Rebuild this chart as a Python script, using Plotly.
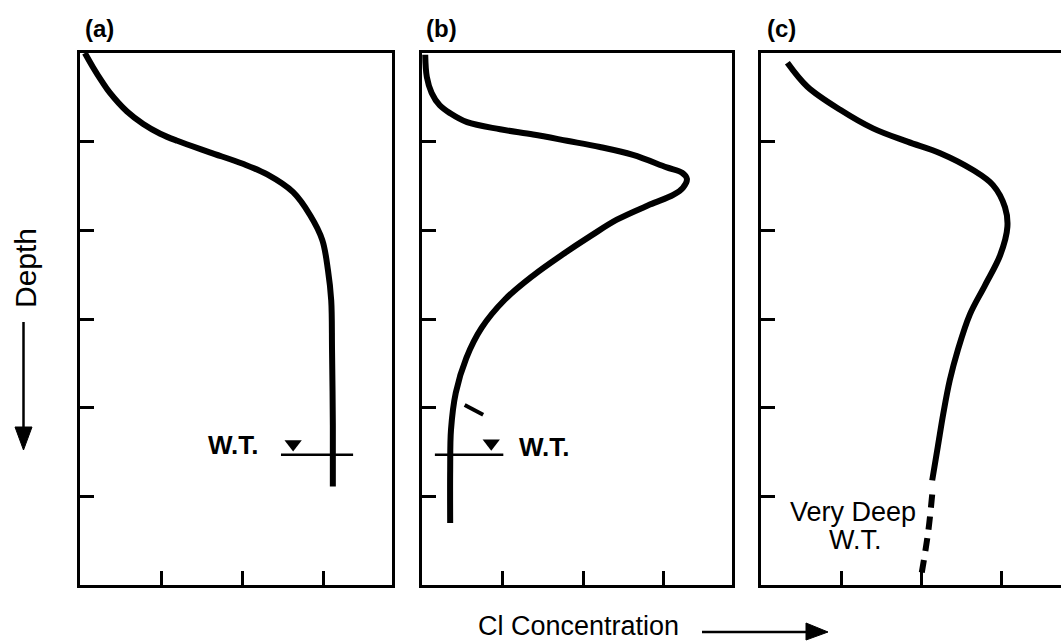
import plotly.graph_objects as go

W, H = 1061, 642

# ---- data (concentration units = tick intervals, depth units = tick intervals) ----
a_conc = [0.06, 0.16, 0.27, 0.37, 0.58, 0.78, 0.99, 1.20, 1.60, 2.01, 2.31, 2.63, 2.84, 2.99, 3.06, 3.10, 3.11, 3.12, 3.12]
a_depth = [0.00, 0.16, 0.32, 0.45, 0.66, 0.80, 0.91, 0.99, 1.12, 1.25, 1.37, 1.57, 1.83, 2.11, 2.45, 2.79, 3.35, 4.20, 4.89]

b_conc = [0.04, 0.06, 0.12, 0.22, 0.35, 0.56, 0.97, 1.38, 1.80, 2.21, 2.62, 3.04, 3.23, 3.29, 3.24, 3.12,
          2.83, 2.42, 2.10, 1.75, 1.38, 1.03, 0.74, 0.55, 0.42, 0.36, 0.35, 0.35]
b_depth = [0.02, 0.27, 0.45, 0.59, 0.68, 0.78, 0.86, 0.92, 0.99, 1.06, 1.15, 1.29, 1.35, 1.42, 1.52, 1.60,
           1.71, 1.88, 2.06, 2.27, 2.51, 2.78, 3.10, 3.44, 3.83, 4.25, 4.70, 5.30]
b_dash_conc = [0.53, 0.76]
b_dash_depth = [3.97, 4.08]

c_conc = [0.33, 0.58, 0.99, 1.40, 1.83, 2.24, 2.65, 2.90, 3.05, 3.08, 2.99, 2.80, 2.61, 2.46, 2.36, 2.28, 2.21, 2.14]
c_depth = [0.11, 0.38, 0.64, 0.85, 1.00, 1.13, 1.32, 1.49, 1.74, 1.96, 2.28, 2.62, 2.95, 3.35, 3.69, 4.06, 4.44, 4.82]
c_deep_conc = [2.14, 2.09, 2.01]
c_deep_depth = [4.98, 5.40, 5.86]

# water table markers
wt_a = dict(x0=2.48, x1=3.37, d=4.53, tx=2.63, td=4.41, lx=1.89, ld=4.42)
wt_b = dict(x0=0.16, x1=1.01, d=4.53, tx=0.86, td=4.40, lx=1.52, ld=4.44)
c_label_x, c_label_d1, c_label_d2 = 1.15, 5.18, 5.49

tick_vals = [1, 2, 3]
depth_ticks = [1, 2, 3, 4, 5]

FONT = "Liberation Sans, Arial, Helvetica, sans-serif"
TS = 27

def px(x):
    return x / W

def py(y):
    return 1 - y / H

fig = go.Figure()

curve = dict(color="black", width=6, shape="spline", smoothing=1.0)

fig.add_trace(go.Scatter(x=a_conc, y=a_depth, mode="lines", line=curve, xaxis="x", yaxis="y", hoverinfo="skip"))
fig.add_trace(go.Scatter(x=b_conc, y=b_depth, mode="lines", line=curve, xaxis="x2", yaxis="y2", hoverinfo="skip"))
fig.add_trace(go.Scatter(x=b_dash_conc, y=b_dash_depth, mode="lines", line=dict(color="black", width=4),
                         xaxis="x2", yaxis="y2", hoverinfo="skip"))
fig.add_trace(go.Scatter(x=c_conc, y=c_depth, mode="lines", line=curve,
                         xaxis="x3", yaxis="y3", hoverinfo="skip"))
fig.add_trace(go.Scatter(x=c_deep_conc, y=c_deep_depth, mode="lines",
                         line=dict(color="black", width=6, dash="13px,9px", shape="spline"),
                         xaxis="x3", yaxis="y3", hoverinfo="skip"))

for wt, xa, ya in [(wt_a, "x", "y"), (wt_b, "x2", "y2")]:
    fig.add_trace(go.Scatter(x=[wt["x0"], wt["x1"]], y=[wt["d"], wt["d"]], mode="lines",
                             line=dict(color="black", width=2.5), xaxis=xa, yaxis=ya, hoverinfo="skip"))
    fig.add_trace(go.Scatter(x=[wt["tx"]], y=[wt["td"]], mode="markers",
                             marker=dict(symbol="triangle-down", size=15, color="black"),
                             xaxis=xa, yaxis=ya, hoverinfo="skip"))

x_dom = [[80 / W, 392 / W], [422 / W, 732 / W], [761 / W, 1.0]]
x_rng = [[0, 3.85], [0, 3.85], [0, 300 / 80]]
y_dom = [py(585), py(53)]

axis_common = dict(showline=True, linecolor="black", linewidth=3, ticks="inside", ticklen=14,
                   tickwidth=2.5, tickcolor="black", showticklabels=False, showgrid=False,
                   zeroline=False, fixedrange=True)

layout = dict(width=W, height=H, margin=dict(l=0, r=0, t=0, b=0), showlegend=False,
              paper_bgcolor="white", plot_bgcolor="white")

for i in range(3):
    sx = "" if i == 0 else str(i + 1)
    layout["xaxis" + sx] = dict(axis_common, domain=x_dom[i], range=x_rng[i], tickvals=tick_vals,
                                mirror=True, anchor="y" + sx)
    layout["yaxis" + sx] = dict(axis_common, domain=y_dom, range=[6, 0], tickvals=depth_ticks,
                                mirror=(i < 2), anchor="x" + sx)

fig.update_layout(**layout)

def txt(text, x, y, xref, yref, size=TS, angle=0):
    return dict(text=text, x=x, y=y, xref=xref, yref=yref, showarrow=False, textangle=angle,
                xanchor="center", yanchor="middle", font=dict(family=FONT, size=size, color="black"))

ann = []
for lab, xc in [("(a)", 99), ("(b)", 441), ("(c)", 781)]:
    ann.append(txt("<b>" + lab + "</b>", px(xc), py(29), "paper", "paper", size=24))
ann.append(txt("<b>W.T.</b>", wt_a["lx"], wt_a["ld"], "x", "y", size=26))
ann.append(txt("<b>W.T.</b>", wt_b["lx"], wt_b["ld"], "x2", "y2", size=26))
ann.append(txt("Very Deep", c_label_x, c_label_d1, "x3", "y3"))
ann.append(txt("W.T.", c_label_x + 0.03, c_label_d2, "x3", "y3"))
ann.append(txt("Cl Concentration", px(578), py(626), "paper", "paper"))
ann.append(txt("Depth", px(25), py(268), "paper", "paper", size=30, angle=-90))
fig.update_layout(annotations=ann)

shapes = []
shapes.append(dict(type="line", xref="paper", yref="paper", x0=px(23.5), x1=px(23.5), y0=py(322), y1=py(432),
                   line=dict(color="black", width=2.5)))
shapes.append(dict(type="path", xref="paper", yref="paper",
                   path=f"M {px(15)} {py(427)} L {px(32)} {py(427)} L {px(23.5)} {py(450)} Z",
                   fillcolor="black", line=dict(color="black", width=1)))
shapes.append(dict(type="line", xref="paper", yref="paper", x0=px(702), x1=px(810), y0=py(632), y1=py(632),
                   line=dict(color="black", width=2.5)))
shapes.append(dict(type="path", xref="paper", yref="paper",
                   path=f"M {px(806)} {py(623)} L {px(806)} {py(640)} L {px(828)} {py(632)} Z",
                   fillcolor="black", line=dict(color="black", width=1)))
fig.update_layout(shapes=shapes)

fig.write_html("out.html")
